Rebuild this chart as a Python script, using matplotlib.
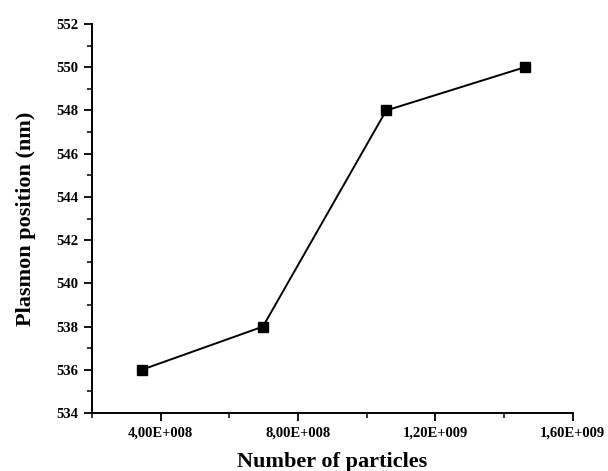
import matplotlib
matplotlib.use('Agg')
import matplotlib.pyplot as plt
from matplotlib.ticker import MultipleLocator, FuncFormatter

# data
particles = [3.45e8, 6.98e8, 1.057e9, 1.46e9]
plasmon = [536, 538, 548, 550]

plt.rcParams['font.family'] = ['Liberation Serif', 'DejaVu Serif']


def sci_comma(v, pos):
    # origin-style label: 4,00E+008
    if v == 0:
        return '0'
    exp = 0
    m = v
    while abs(m) >= 10:
        m /= 10
        exp += 1
    return ('%.2f' % m).replace('.', ',') + 'E+%03d' % exp


fig = plt.figure(figsize=(6.08, 4.71), dpi=100)
ax = fig.add_axes([0.151, 0.123, 0.791, 0.826])

ax.plot(particles, plasmon, color='black', linewidth=1.4, marker='s', markersize=6.5)

ax.set_xlim(2e8, 1.6e9)
ax.set_ylim(534, 552)
ax.xaxis.set_major_locator(MultipleLocator(4e8))
ax.xaxis.set_minor_locator(MultipleLocator(2e8))
ax.yaxis.set_major_locator(MultipleLocator(2))
ax.yaxis.set_minor_locator(MultipleLocator(1))
ax.xaxis.set_major_formatter(FuncFormatter(sci_comma))

for s in ['top', 'right']:
    ax.spines[s].set_visible(False)
for s in ['left', 'bottom']:
    ax.spines[s].set_linewidth(1.4)

ax.tick_params(which='major', direction='out', length=6, width=1.3, labelsize=10.5)
ax.tick_params(which='minor', direction='out', length=3.5, width=1.1)
for lab in ax.get_xticklabels() + ax.get_yticklabels():
    lab.set_fontweight('bold')

ax.set_xlabel('Number of particles', fontsize=16, fontweight='bold', labelpad=9)
ax.set_ylabel('Plasmon position (nm)', fontsize=16, fontweight='bold', labelpad=15)

fig.savefig('out.png', dpi=100)
